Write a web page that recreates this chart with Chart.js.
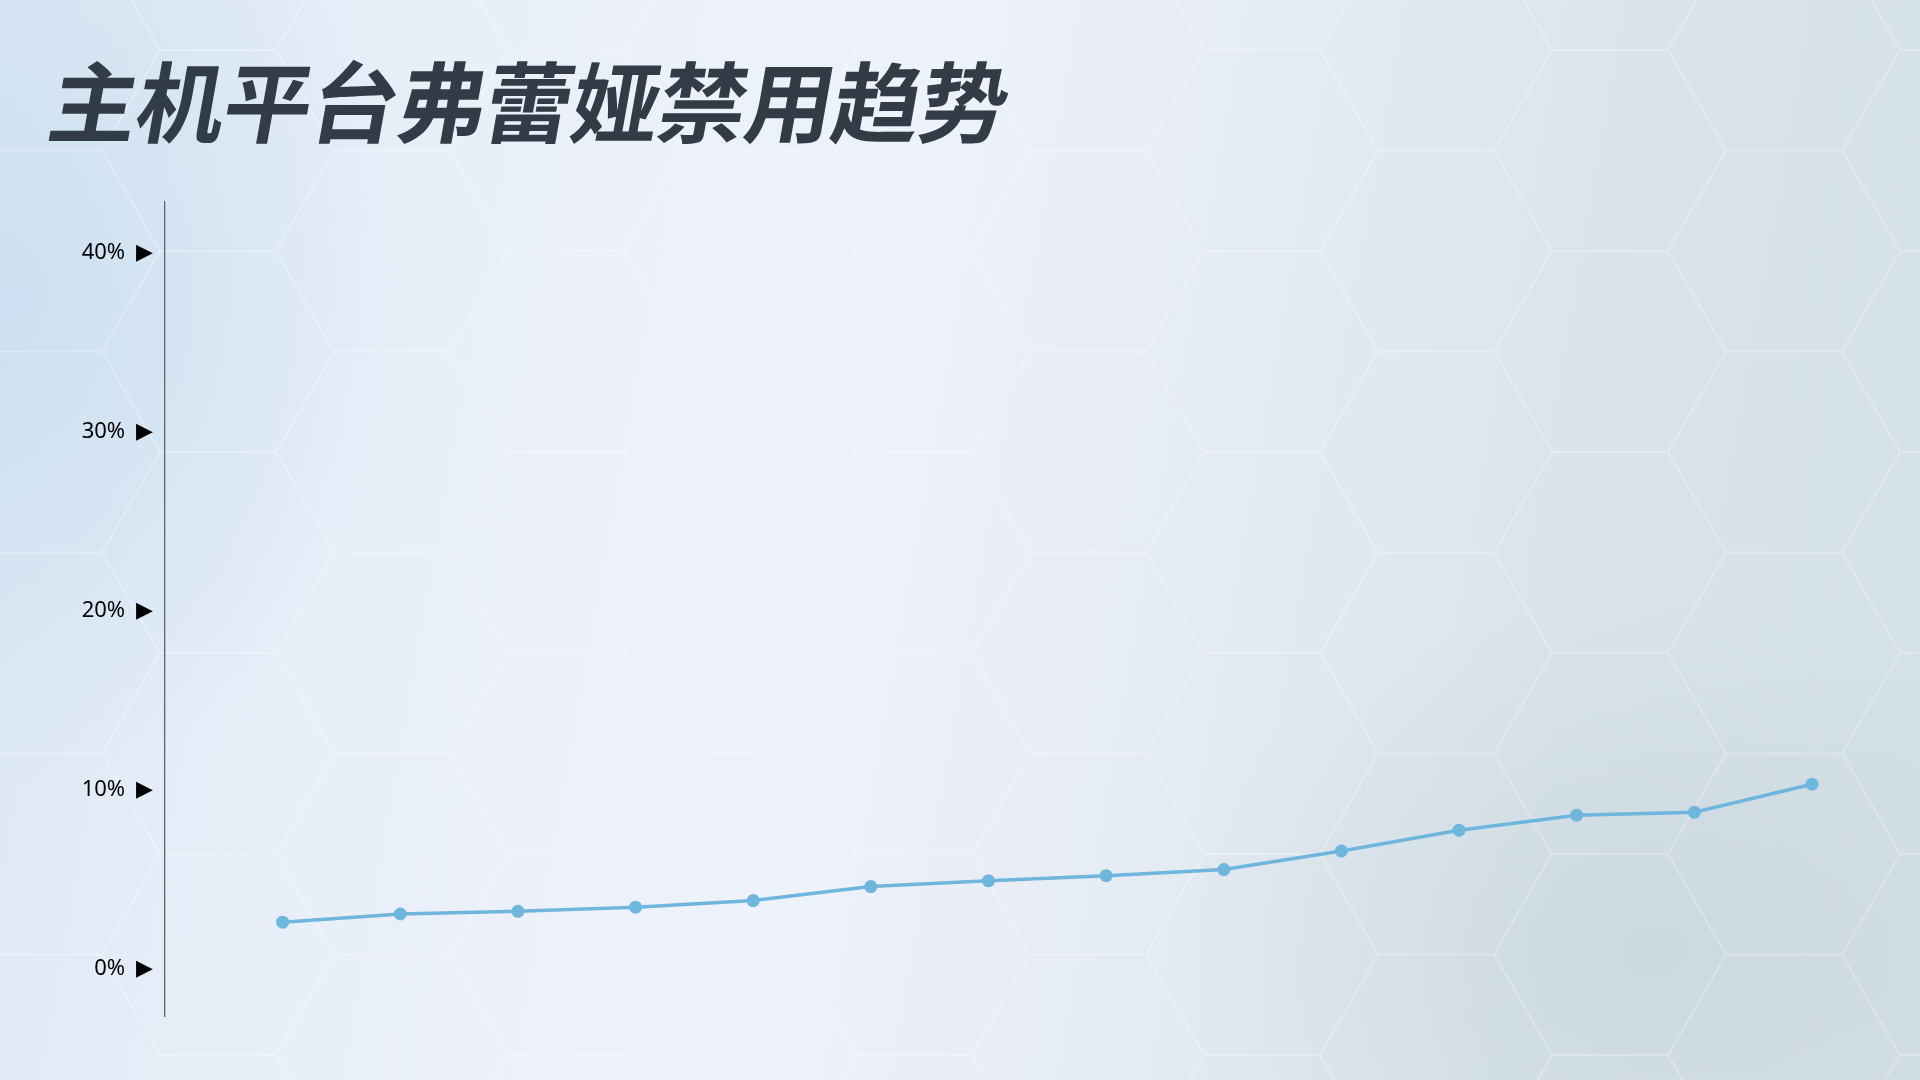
<!DOCTYPE html>
<html>
<head>
<meta charset="utf-8">
<title>主机平台弗蕾娅禁用趋势</title>
<script src="https://cdn.jsdelivr.net/npm/chart.js@4.4.0/dist/chart.umd.min.js"></script>
<style>
    html, body {
        margin: 0;
        padding: 0;
        width: 1920px;
        height: 1080px;
        overflow: hidden;
    }
    body {
        position: relative;
        background:
            radial-gradient(ellipse 700px 500px at 1650px 950px, rgba(196, 208, 216, 0.55), rgba(196, 208, 216, 0) 70%),
            radial-gradient(ellipse 600px 700px at 0px 300px, rgba(200, 222, 240, 0.8), rgba(200, 222, 240, 0) 70%),
            linear-gradient(100deg, #dae7f3 0%, #e9eff9 22%, #eef2fa 45%, #e5ebf3 62%, #d8e4ea 80%, #d3e0e5 100%);
    }
    #hex {
        position: absolute;
        left: 0;
        top: 0;
        width: 1920px;
        height: 1080px;
    }
    #title {
        position: absolute;
        left: 44px;
        top: 54px;
        margin: 0;
        font-family: "Noto Sans CJK SC", sans-serif;
        font-weight: 700;
        font-size: 88px;
        line-height: 88px;
        letter-spacing: -1px;
        color: #323c46;
        transform: skewX(-10deg);
        transform-origin: left bottom;
        white-space: nowrap;
    }
    #chart-wrap {
        position: absolute;
        left: 0;
        top: 0;
        width: 1920px;
        height: 1080px;
    }
</style>
</head>
<body>
<svg id="hex" xmlns="http://www.w3.org/2000/svg">
    <defs>
        <pattern id="hexTile" width="348" height="201" patternUnits="userSpaceOnUse" x="102" y="50">
            <path d="M0,100.5 L58,0 L174,0 L232,100.5 L174,201 L58,201 Z M232,100.5 L348,100.5"
                  fill="none" stroke="rgba(255,255,255,0.25)" stroke-width="2"/>
        </pattern>
    </defs>
    <rect width="1920" height="1080" fill="url(#hexTile)"/>
</svg>
<h1 id="title">主机平台弗蕾娅禁用趋势</h1>
<div id="chart-wrap">
    <canvas id="trend-chart" width="1920" height="1080"></canvas>
</div>
<script>
// Periods along the x axis (no labels are shown in the picture)
const periods = ['P1', 'P2', 'P3', 'P4', 'P5', 'P6', 'P7', 'P8', 'P9', 'P10', 'P11', 'P12', 'P13', 'P14'];

// Ban rate per period, in percent
const banRates = [2.61, 3.07, 3.22, 3.45, 3.82, 4.60, 4.92, 5.21, 5.55, 6.59, 7.75, 8.59, 8.75, 10.32];

// Tick values on the y axis
const yTicks = [0, 10, 20, 30, 40];
const yMin = -2.63;
const yMax = 42.85;

const lineColor = '#6fb6dd';

const canvas = document.getElementById('trend-chart');
const ctx = canvas.getContext('2d');

const trendChart = new Chart(ctx, {
    type: 'line',
    data: {
        datasets: [{
            label: '禁用率',
            data: banRates.map((v, i) => ({ x: i + 1, y: v, period: periods[i] })),
            borderColor: lineColor,
            backgroundColor: lineColor,
            borderWidth: 3.5,
            pointRadius: 6.5,
            pointHoverRadius: 7,
            pointBorderWidth: 0,
            tension: 0,
            clip: false
        }]
    },
    options: {
        responsive: false,
        animation: false,
        devicePixelRatio: 1,
        layout: {
            padding: { left: 0, right: 108, top: 202, bottom: 64 }
        },
        plugins: {
            legend: { display: false },
            title: { display: false },
            tooltip: {
                callbacks: {
                    title: items => items[0].raw.period,
                    label: item => `禁用率: ${item.parsed.y.toFixed(2)}%`
                }
            }
        },
        scales: {
            x: {
                type: 'linear',
                min: 0,
                max: periods.length,
                display: false
            },
            y: {
                min: yMin,
                max: yMax,
                afterFit: scale => { scale.width = 165; },
                afterBuildTicks: scale => {
                    scale.ticks = yTicks.map(v => ({ value: v }));
                },
                grid: { display: false, drawTicks: false },
                border: { display: true, color: '#5d646c', width: 1.3 },
                ticks: {
                    padding: 12,
                    color: '#000000',
                    font: { family: '"Noto Sans", "DejaVu Sans", sans-serif', size: 22 },
                    callback: value => value + '%\u2002\u25B6'
                }
            }
        }
    }
});
</script>
</body>
</html>
